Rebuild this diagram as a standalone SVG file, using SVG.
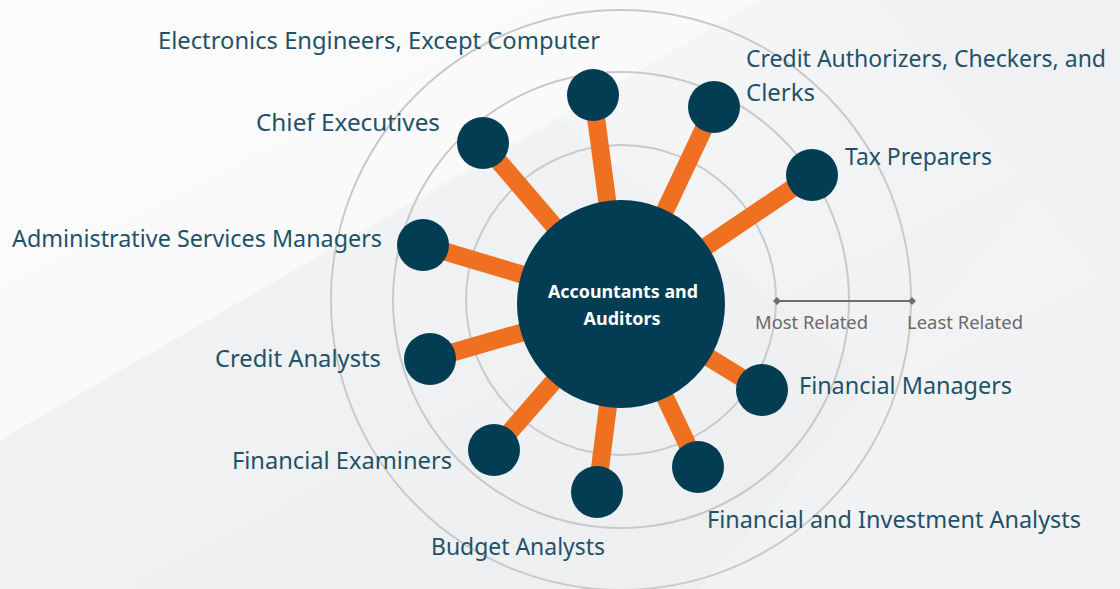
<svg xmlns="http://www.w3.org/2000/svg" width="1120" height="589" viewBox="0 0 1120 589">
<defs>
<linearGradient id="bg" x1="0" y1="0" x2="1" y2="1">
<stop offset="0" stop-color="#f9f9fa"/>
<stop offset="0.5" stop-color="#f2f3f4"/>
<stop offset="1" stop-color="#edeff0"/>
</linearGradient>
<marker id="dia" viewBox="-5 -5 10 10" markerWidth="8" markerHeight="8" refX="0" refY="0" markerUnits="userSpaceOnUse">
<path d="M0,-5 L5,0 L0,5 L-5,0 Z" fill="#6f6f6f"/>
</marker>
<style>
.ring{fill:none;stroke:#c9c9c9;stroke-width:2}
.stem{stroke:#f07022;stroke-width:18;stroke-linecap:butt}
.node{fill:#023d54}
.lbl{font-family:"Noto Sans","Liberation Sans",sans-serif;font-size:24px;fill:#1f5268}
.leg{font-family:"Noto Sans","Liberation Sans",sans-serif;font-size:18px;fill:#6a6a6a}
.ctr{font-family:"Noto Sans","Liberation Sans",sans-serif;font-size:18px;font-weight:bold;fill:#ffffff}
</style>
</defs>
<rect width="1120" height="589" fill="url(#bg)"/>
<polygon points="0,0 760,0 0,440" fill="#fcfcfc" opacity="0.7"/>
<polygon points="0,440 560,120 1120,589 0,589" fill="#eceef0" opacity="0.4"/>
<polygon points="1120,90 700,589 1120,589" fill="#f3f4f5" opacity="0.6"/>
<polygon points="880,0 1120,0 1120,300" fill="#eef0f1" opacity="0.6"/>

<g id="rings">
<circle class="ring" cx="621" cy="300" r="155"/>
<circle class="ring" cx="621" cy="300" r="228"/>
<circle class="ring" cx="621" cy="300" r="290"/>
</g>

<g id="legend">
<line x1="777" y1="301" x2="912" y2="301" stroke="#6f6f6f" stroke-width="2" marker-start="url(#dia)" marker-end="url(#dia)"/>
<text class="leg" x="755" y="329" textLength="113" lengthAdjust="spacingAndGlyphs">Most Related</text>
<text class="leg" x="907" y="329" textLength="116" lengthAdjust="spacingAndGlyphs">Least Related</text>
</g>

<g id="connectors">
<line class="stem" x1="621" y1="304" x2="593" y2="95"/>
<line class="stem" x1="621" y1="304" x2="714" y2="107"/>
<line class="stem" x1="621" y1="304" x2="812" y2="175"/>
<line class="stem" x1="621" y1="304" x2="483" y2="143"/>
<line class="stem" x1="621" y1="304" x2="423" y2="245"/>
<line class="stem" x1="621" y1="304" x2="430" y2="359"/>
<line class="stem" x1="621" y1="304" x2="494" y2="450"/>
<line class="stem" x1="621" y1="304" x2="597" y2="492"/>
<line class="stem" x1="621" y1="304" x2="698" y2="467"/>
<line class="stem" x1="621" y1="304" x2="762" y2="390"/>
</g>

<g id="center">
<circle class="node" cx="621" cy="304" r="104"/>
<text class="ctr" x="623" y="298" text-anchor="middle" textLength="150" lengthAdjust="spacingAndGlyphs">Accountants and</text>
<text class="ctr" x="622" y="325" text-anchor="middle" textLength="77" lengthAdjust="spacingAndGlyphs">Auditors</text>
</g>

<g id="n-electronics">
<circle class="node" cx="593" cy="95" r="26"/>
<text class="lbl" x="158" y="49" textLength="442" lengthAdjust="spacingAndGlyphs">Electronics Engineers, Except Computer</text>
</g>
<g id="n-credit-authorizers">
<circle class="node" cx="714" cy="107" r="26"/>
<text class="lbl" x="746" y="67" textLength="360" lengthAdjust="spacingAndGlyphs">Credit Authorizers, Checkers, and</text>
<text class="lbl" x="746" y="101" textLength="69" lengthAdjust="spacingAndGlyphs">Clerks</text>
</g>
<g id="n-tax">
<circle class="node" cx="812" cy="175" r="26"/>
<text class="lbl" x="845" y="165" textLength="147" lengthAdjust="spacingAndGlyphs">Tax Preparers</text>
</g>
<g id="n-chief">
<circle class="node" cx="483" cy="143" r="26"/>
<text class="lbl" x="256" y="131" textLength="184" lengthAdjust="spacingAndGlyphs">Chief Executives</text>
</g>
<g id="n-admin">
<circle class="node" cx="423" cy="245" r="26"/>
<text class="lbl" x="12" y="247" textLength="370" lengthAdjust="spacingAndGlyphs">Administrative Services Managers</text>
</g>
<g id="n-credit-analysts">
<circle class="node" cx="430" cy="359" r="26"/>
<text class="lbl" x="215" y="367" textLength="166" lengthAdjust="spacingAndGlyphs">Credit Analysts</text>
</g>
<g id="n-fin-examiners">
<circle class="node" cx="494" cy="450" r="26"/>
<text class="lbl" x="232" y="469" textLength="220" lengthAdjust="spacingAndGlyphs">Financial Examiners</text>
</g>
<g id="n-budget">
<circle class="node" cx="597" cy="492" r="26"/>
<text class="lbl" x="431" y="555" textLength="174" lengthAdjust="spacingAndGlyphs">Budget Analysts</text>
</g>
<g id="n-fin-invest">
<circle class="node" cx="698" cy="467" r="26"/>
<text class="lbl" x="707" y="528" textLength="374" lengthAdjust="spacingAndGlyphs">Financial and Investment Analysts</text>
</g>
<g id="n-fin-managers">
<circle class="node" cx="762" cy="390" r="26"/>
<text class="lbl" x="799" y="394" textLength="213" lengthAdjust="spacingAndGlyphs">Financial Managers</text>
</g>
</svg>
